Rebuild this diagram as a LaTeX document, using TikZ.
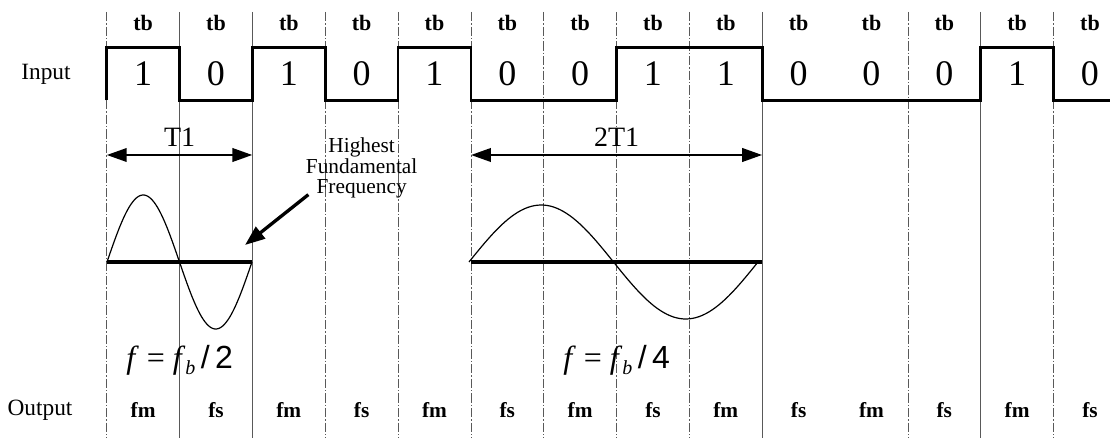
\documentclass[tikz,border=0pt]{standalone}
\usepackage{fontspec}
\setmainfont{Liberation Serif}
\setsansfont{Liberation Sans}
\usetikzlibrary{arrows.meta,positioning}

\begin{document}
\begin{tikzpicture}[
  x=0.75pt, y=-0.75pt,
  bit/.style={minimum width=54.225pt, minimum height=39pt, inner sep=0pt,
              font=\fontsize{27}{30}\selectfont},
  tblbl/.style={font=\fontsize{16.5}{18}\selectfont\bfseries, inner sep=1pt},
  outlbl/.style={font=\fontsize{16}{18}\selectfont\bfseries, inner sep=1pt},
  side/.style={font=\fontsize{17.5}{20}\selectfont, inner sep=1pt},
  spanlbl/.style={font=\fontsize{21}{24}\selectfont, inner sep=1pt},
  freq/.style={font=\fontsize{24}{28}\selectfont, inner sep=1pt},
  note/.style={font=\fontsize{16}{15.5}\selectfont, align=center, inner sep=1pt},
  gridln/.style={draw=black!65, line width=0.5pt},
  gridd/.style={gridln, dash pattern=on 7pt off 1.5pt on 1pt off 1.5pt},
  signal/.style={line width=2pt},
  spanarr/.style={{Triangle[length=15pt,width=10pt]}-{Triangle[length=15pt,width=10pt]},
                  line width=2pt},
  pointer/.style={-{Triangle[length=15pt,width=11pt]}, line width=2.5pt},
  baseln/.style={line width=2.5pt},
  wave/.style={line width=0.9pt}
]
\useasboundingbox (0,0) rectangle (1110,438);
\coordinate (top) at (0,12);
\coordinate (bot) at (0,438);
\coordinate (tbrow) at (0,23);
\coordinate (spanrow) at (0,155);
\coordinate (base) at (0,262);
\coordinate (outrow) at (0,410);

% input bits
\node[bit] (b1) at (143.15,74) {1};
\node[bit, right=0pt of b1] (b2) {0};
\node[bit, right=0pt of b2] (b3) {1};
\node[bit, right=0pt of b3] (b4) {0};
\node[bit, right=0pt of b4] (b5) {1};
\node[bit, right=0pt of b5] (b6) {0};
\node[bit, right=0pt of b6] (b7) {0};
\node[bit, right=0pt of b7] (b8) {1};
\node[bit, right=0pt of b8] (b9) {1};
\node[bit, right=0pt of b9] (b10) {0};
\node[bit, right=0pt of b10] (b11) {0};
\node[bit, right=0pt of b11] (b12) {0};
\node[bit, right=0pt of b12] (b13) {1};
\node[bit, right=0pt of b13] (b14) {0};

\node[side] (inlbl) at (46,74) {Input};
\node[side] (outlbl) at (40,410) {Output};

% bit period labels
\node[tblbl] (tb1) at (b1 |- tbrow) {tb};
\node[tblbl] (tb2) at (b2 |- tbrow) {tb};
\node[tblbl] (tb3) at (b3 |- tbrow) {tb};
\node[tblbl] (tb4) at (b4 |- tbrow) {tb};
\node[tblbl] (tb5) at (b5 |- tbrow) {tb};
\node[tblbl] (tb6) at (b6 |- tbrow) {tb};
\node[tblbl] (tb7) at (b7 |- tbrow) {tb};
\node[tblbl] (tb8) at (b8 |- tbrow) {tb};
\node[tblbl] (tb9) at (b9 |- tbrow) {tb};
\node[tblbl] (tb10) at (b10 |- tbrow) {tb};
\node[tblbl] (tb11) at (b11 |- tbrow) {tb};
\node[tblbl] (tb12) at (b12 |- tbrow) {tb};
\node[tblbl] (tb13) at (b13 |- tbrow) {tb};
\node[tblbl] (tb14) at (b14 |- tbrow) {tb};

% output frequencies
\node[outlbl] (o1) at (b1 |- outrow) {fm};
\node[outlbl] (o2) at (b2 |- outrow) {fs};
\node[outlbl] (o3) at (b3 |- outrow) {fm};
\node[outlbl] (o4) at (b4 |- outrow) {fs};
\node[outlbl] (o5) at (b5 |- outrow) {fm};
\node[outlbl] (o6) at (b6 |- outrow) {fs};
\node[outlbl] (o7) at (b7 |- outrow) {fm};
\node[outlbl] (o8) at (b8 |- outrow) {fs};
\node[outlbl] (o9) at (b9 |- outrow) {fm};
\node[outlbl] (o10) at (b10 |- outrow) {fs};
\node[outlbl] (o11) at (b11 |- outrow) {fm};
\node[outlbl] (o12) at (b12 |- outrow) {fs};
\node[outlbl] (o13) at (b13 |- outrow) {fm};
\node[outlbl] (o14) at (b14 |- outrow) {fs};

% bit boundaries
\draw[gridd] (b1.west |- top) -- (b1.west |- bot);
\draw[gridln] (b2.west |- top) -- (b2.west |- bot);
\draw[gridln] (b3.west |- top) -- (b3.west |- bot);
\draw[gridd] (b4.west |- top) -- (b4.west |- bot);
\draw[gridd] (b5.west |- top) -- (b5.west |- bot);
\draw[gridd] (b6.west |- top) -- (b6.west |- bot);
\draw[gridd] (b7.west |- top) -- (b7.west |- bot);
\draw[gridd] (b8.west |- top) -- (b8.west |- bot);
\draw[gridd] (b9.west |- top) -- (b9.west |- bot);
\draw[gridln] (b10.west |- top) -- (b10.west |- bot);
\draw[gridd] (b12.west |- top) -- (b12.west |- bot);
\draw[gridln] (b13.west |- top) -- (b13.west |- bot);
\draw[gridd] (b14.west |- top) -- (b14.west |- bot);

% input waveform
\draw[signal] (b1.south west) -- (b1.north west) -- (b2.north west) -- (b2.south west)
  -- (b3.south west) -- (b3.north west) -- (b4.north west) -- (b4.south west)
  -- (b5.south west) -- (b5.north west) -- (b6.north west) -- (b6.south west)
  -- (b8.south west) -- (b8.north west) -- (b10.north west) -- (b10.south west)
  -- (b13.south west) -- (b13.north west) -- (b14.north west) -- (b14.south west)
  -- (b14.south east);

% periods
\node[spanlbl] (t1) at (b1.east |- 0,137) {T1};
\draw[spanarr] (b1.west |- spanrow) -- (b2.east |- spanrow);
\node[spanlbl] (t2) at (b7.east |- 0,137) {2T1};
\draw[spanarr] (b6.west |- spanrow) -- (b9.east |- spanrow);

% fundamentals
\draw[baseln] (b1.west |- base) -- (b2.east |- base);
\draw[wave] plot[domain=0:360, samples=90, smooth] ({107+\x/360*145}, {262-67*sin(\x)});
\draw[baseln] (b6.west |- base) -- (b9.east |- base);
\draw[wave] plot[domain=0:360, samples=90, smooth] ({469+\x/360*289}, {262-57*sin(\x)});

\node[note] (hf) at (b4 |- 0,168) {Highest\\Fundamental\\Frequency};
\coordinate (hftip) at (245,245);
\draw[pointer] ([xshift=3pt,yshift=4pt]hf.south west) -- (hftip);

\node[freq] (fb2) at (b1.east |- 0,360)
  {\textit{f} = \textit{f}\raisebox{-0.4ex}{\fontsize{15}{15}\selectfont\textit{b}}\,\sffamily/\,2};
\node[freq] (fb4) at (b7.east |- 0,360)
  {\textit{f} = \textit{f}\raisebox{-0.4ex}{\fontsize{15}{15}\selectfont\textit{b}}\,\sffamily/\,4};
\end{tikzpicture}
\end{document}
